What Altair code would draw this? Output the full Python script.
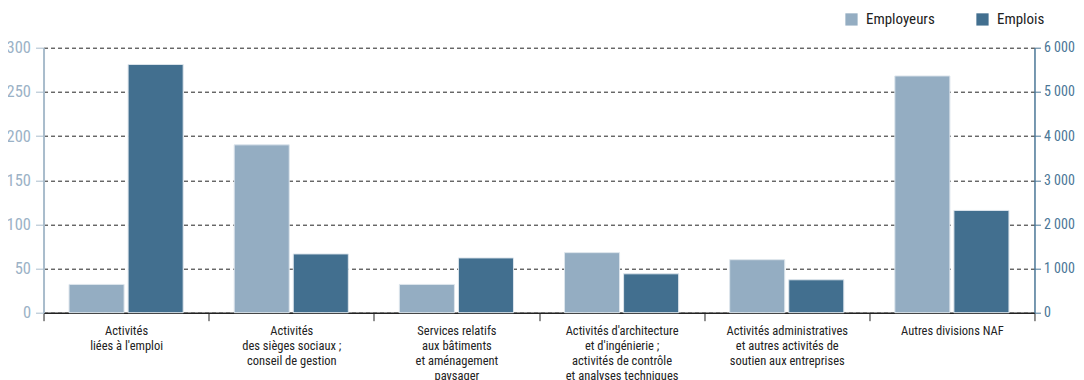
import altair as alt
import pandas as pd

categories = [
    "Activités|liées à l'emploi",
    "Activités|des sièges sociaux ;|conseil de gestion",
    "Services relatifs|aux bâtiments|et aménagement|paysager",
    "Activités d'architecture|et d'ingénierie ;|activités de contrôle|et analyses techniques",
    "Activités administratives|et autres activités de|soutien aux entreprises",
    "Autres divisions NAF",
]
employeurs = [32, 190, 32, 68, 60, 268]
emplois = [5620, 1330, 1240, 880, 745, 2315]
series = ["Employeurs", "Emplois"]
colors = ["#94adc2", "#426f8f"]
left_ticks = [0, 50, 100, 150, 200, 250, 300]
right_ticks = [0, 1000, 2000, 3000, 4000, 5000, 6000]

FONT = "Liberation Sans Narrow, Roboto Condensed, DejaVu Sans Condensed, sans-serif"

df_e = pd.DataFrame({"cat": categories, "value": employeurs, "serie": series[0]})
df_j = pd.DataFrame({"cat": categories, "value": emplois, "serie": series[1]})

x = alt.X(
    "cat:N", sort=categories,
    scale=alt.Scale(paddingInner=0, paddingOuter=0),
    axis=alt.Axis(
        title=None, labelAngle=0, labelExpr="split(datum.label, '|')",
        tickBand="extent", domainColor="#222", tickColor="#222", tickSize=8,
        domainWidth=1.5, labelFont=FONT, labelFontSize=12.5, labelColor="#222",
        labelLineHeight=15, labelPadding=4, labelBaseline="top", labelOverlap=False,
        labelLimit=300,
    ),
)
xo = alt.XOffset("serie:N", sort=series,
                 scale=alt.Scale(domain=series, paddingInner=0.068, paddingOuter=0.432))
color = alt.Color(
    "serie:N", sort=series, scale=alt.Scale(domain=series, range=colors),
    legend=alt.Legend(
        title=None, orient="none", legendX=800.5, legendY=-36, direction="horizontal",
        symbolType="square", symbolSize=150, symbolStrokeWidth=0, labelFont=FONT,
        labelFontSize=15, labelColor="#222", columnPadding=40, labelOffset=7,
    ),
)

left = alt.Chart(df_e).mark_bar(stroke="#dde5ec", strokeWidth=1).encode(
    x=x, xOffset=xo, color=color,
    y=alt.Y("value:Q", scale=alt.Scale(domain=[0, 300], nice=False),
            axis=alt.Axis(title=None, orient="left", values=left_ticks, grid=True,
                          gridDash=[4, 3], gridColor="#222", gridWidth=1,
                          domainColor="#a9bccc", domainWidth=2, tickColor="#a9bccc",
                          tickSize=8, labelColor="#9bb2c6", labelFont=FONT,
                          labelFontSize=16.5, labelPadding=5)),
)
right = alt.Chart(df_j).mark_bar(stroke="#dde5ec", strokeWidth=1).encode(
    x=x, xOffset=xo, color=color,
    y=alt.Y("value:Q", scale=alt.Scale(domain=[0, 6000], nice=False),
            axis=alt.Axis(title=None, orient="right", values=right_ticks, grid=False,
                          domainColor="#4a7696", domainWidth=1.5, tickColor="#4a7696",
                          tickSize=6, labelColor="#4a7696", labelFont=FONT,
                          labelFontSize=14, labelPadding=3,
                          labelExpr="replace(format(datum.value, ','), ',', ' ')")),
)

chart = alt.layer(left, right).resolve_scale(y="independent").properties(
    width=991, height=265,
    autosize=alt.AutoSizeParams(type="none"),
    padding={"left": 35.5, "top": 39.7, "right": 41.5, "bottom": 70},
).configure_view(stroke=None)

chart.save("out.html", embed_options={"renderer": "svg", "actions": False})
